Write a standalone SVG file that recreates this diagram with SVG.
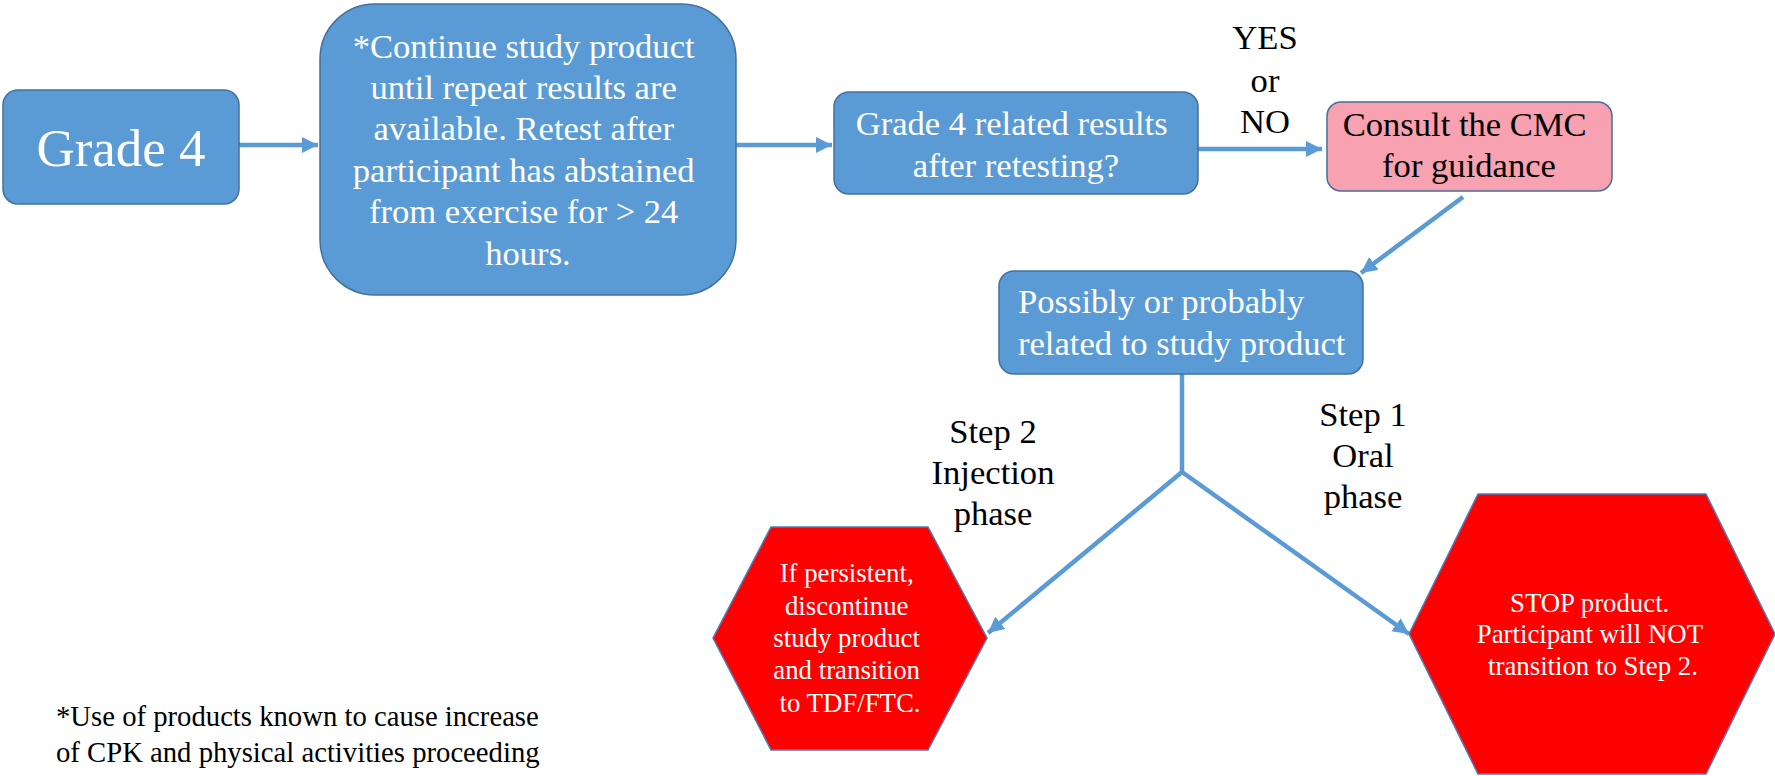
<svg xmlns="http://www.w3.org/2000/svg" width="1775" height="776" viewBox="0 0 1775 776">
  <style>
    .box { fill: #5B9BD5; stroke: #41719C; stroke-width: 1.5; }
    .pink { fill: #F8A1B0; stroke: #41719C; stroke-width: 1.5; }
    .hex { fill: #FF0000; stroke: #4A7EBB; stroke-width: 1.5; }
    .t { font-family: "Liberation Serif", "Times New Roman", serif; font-size: 34.6px; }
    .w { fill: #FFFFFF; }
    .k { fill: #000000; }
    .mid { text-anchor: middle; }
    .small { font-size: 26.8px; }
    .conn { fill: none; stroke: #5B9BD5; stroke-width: 4.5; }
  </style>
  <defs>
    <marker id="arrow" markerUnits="userSpaceOnUse" markerWidth="18" markerHeight="18" refX="16" refY="8" orient="auto">
      <path d="M0,0 L16,8 L0,16 Z" fill="#5B9BD5"/>
    </marker>
  </defs>

  <rect width="1775" height="776" fill="#FFFFFF"/>

  <!-- connectors -->
  <g id="connectors">
    <line class="conn" x1="239" y1="145" x2="318" y2="145" marker-end="url(#arrow)"/>
    <line class="conn" x1="736" y1="145" x2="832" y2="145" marker-end="url(#arrow)"/>
    <line class="conn" x1="1198" y1="149" x2="1322" y2="149" marker-end="url(#arrow)"/>
    <line class="conn" x1="1463" y1="197" x2="1361" y2="273" marker-end="url(#arrow)"/>
    <line class="conn" x1="1182" y1="374" x2="1182" y2="472"/>
    <line class="conn" x1="1182" y1="472" x2="988" y2="633" marker-end="url(#arrow)"/>
    <line class="conn" x1="1182" y1="472" x2="1409" y2="634" marker-end="url(#arrow)"/>
  </g>

  <!-- edge labels -->
  <g id="labels" class="t k mid">
    <text x="1265" y="49">YES</text>
    <text x="1265" y="92">or</text>
    <text x="1265" y="133">NO</text>
    <text x="993" y="443">Step 2</text>
    <text x="993" y="484">Injection</text>
    <text x="993" y="525">phase</text>
    <text x="1363" y="426">Step 1</text>
    <text x="1363" y="467">Oral</text>
    <text x="1363" y="508">phase</text>
  </g>

  <g id="grade4">
    <rect class="box" x="3" y="90" width="236" height="114" rx="15"/>
    <text class="t w mid" x="121" y="166" style="font-size:53px">Grade 4</text>
  </g>

  <g id="continue">
    <rect class="box" x="320" y="4" width="416" height="291" rx="55"/>
    <text class="t w mid" x="528">
      <tspan x="528" y="58">*Continue study product</tspan>
      <tspan x="528" y="99">until repeat results are</tspan>
      <tspan x="528" y="140">available. Retest after</tspan>
      <tspan x="528" y="182">participant has abstained</tspan>
      <tspan x="528" y="223">from exercise for &gt; 24</tspan>
      <tspan x="528" y="265">hours.</tspan>
    </text>
  </g>

  <g id="retest">
    <rect class="box" x="834" y="92" width="364" height="102" rx="15"/>
    <text class="t w mid">
      <tspan x="1016" y="135">Grade 4 related results</tspan>
      <tspan x="1016" y="177">after retesting?</tspan>
    </text>
  </g>

  <g id="consult">
    <rect class="pink" x="1327" y="102" width="285" height="89" rx="14"/>
    <text class="t k mid">
      <tspan x="1469" y="136">Consult the CMC</tspan>
      <tspan x="1469" y="177">for guidance</tspan>
    </text>
  </g>

  <g id="related">
    <rect class="box" x="999" y="271" width="364" height="103" rx="15"/>
    <text class="t w">
      <tspan x="1018" y="313">Possibly or probably</tspan>
      <tspan x="1018" y="355">related to study product</tspan>
    </text>
  </g>

  <g id="injection-stop">
    <polygon class="hex" points="771,527 928,527 987,638 928,750 771,750 713,638"/>
    <text class="t w mid small">
      <tspan x="850" y="582">If persistent,</tspan>
      <tspan x="850" y="615">discontinue</tspan>
      <tspan x="850" y="647">study product</tspan>
      <tspan x="850" y="679">and transition</tspan>
      <tspan x="850" y="712">to TDF/FTC.</tspan>
    </text>
  </g>

  <g id="oral-stop">
    <polygon class="hex" points="1478,494 1706,494 1775,634 1706,774 1478,774 1409,634"/>
    <text class="t w mid small">
      <tspan x="1593" y="612">STOP product.</tspan>
      <tspan x="1593" y="643">Participant will NOT</tspan>
      <tspan x="1593" y="675">transition to Step 2.</tspan>
    </text>
  </g>

  <g id="footnote" class="t k" style="font-size:28.7px">
    <text x="56" y="726">*Use of products known to cause increase</text>
    <text x="56" y="762">of CPK and physical activities proceeding</text>
    <text x="56" y="798">CPK evaluation should be checked</text>
  </g>
</svg>
